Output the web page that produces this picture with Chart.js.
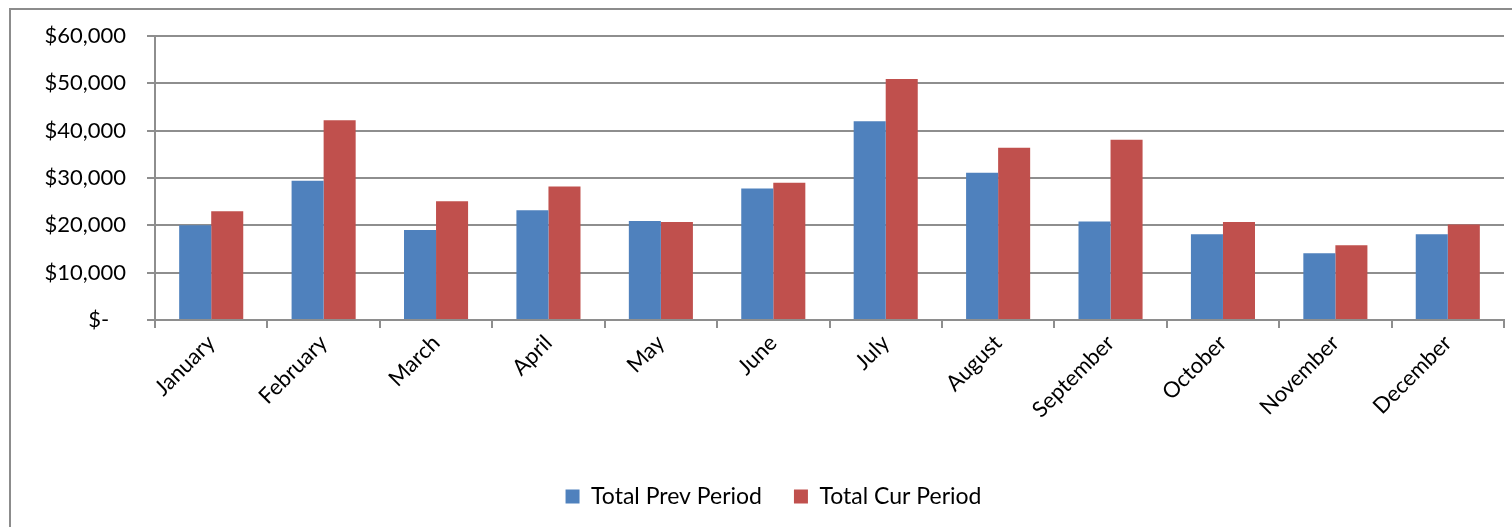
<!DOCTYPE html>
<html>
<head>
<meta charset="utf-8">
<script src="https://cdn.jsdelivr.net/npm/chart.js@4/dist/chart.umd.min.js"></script>
<style>
  html, body { margin: 0; padding: 0; background: #fff; overflow: hidden; }
  #frame { position: absolute; left: 9px; top: 8px; width: 1530px; height: 560px; border: 2px solid #8c8c8c; }
  #wrap { position: absolute; left: 0; top: 0; width: 1512px; height: 527px; }
</style>
</head>
<body>
<div id="frame"></div>
<div id="wrap"><canvas id="barChart" width="1512" height="527"></canvas></div>
<script>
var months = ['January', 'February', 'March', 'April', 'May', 'June', 'July', 'August', 'September', 'October', 'November', 'December'];
var prevPeriod = [20000, 29400, 19000, 23200, 20900, 27800, 42000, 31100, 20800, 18100, 14100, 18100];
var curPeriod = [23000, 42200, 25100, 28200, 20700, 29000, 50900, 36400, 38100, 20700, 15800, 20200];
var yTicks = [0, 10000, 20000, 30000, 40000, 50000, 60000];

var gridColor = '#8e8e8e';
var fontFamily = 'Lato, "Open Sans", sans-serif';

var ctx = document.getElementById('barChart').getContext('2d');
new Chart(ctx, {
    type: 'bar',
    data: {
        labels: months,
        datasets: [
            {
                label: 'Total Prev Period',
                backgroundColor: '#4f81bd',
                data: prevPeriod,
                categoryPercentage: 0.57,
                barPercentage: 1.0
            },
            {
                label: 'Total Cur Period',
                backgroundColor: '#c0504d',
                data: curPeriod,
                categoryPercentage: 0.57,
                barPercentage: 1.0
            }
        ]
    },
    options: {
        responsive: false,
        animation: false,
        // left padding nudges the legend centre right; y axis width brings the plot back to x=155
        layout: { padding: { left: 43, right: 8, top: 36, bottom: 9 } },
        plugins: {
            tooltip: { enabled: false },
            legend: {
                position: 'bottom',
                labels: {
                    color: '#000',
                    font: { family: fontFamily, size: 23 },
                    boxWidth: 14,
                    boxHeight: 14,
                    padding: 32
                }
            }
        },
        scales: {
            x: {
                grid: {
                    offset: true,
                    drawOnChartArea: false,
                    color: gridColor,
                    lineWidth: 2,
                    tickLength: 8
                },
                border: { color: gridColor, width: 2 },
                ticks: {
                    color: '#000',
                    font: { family: fontFamily, size: 22 },
                    minRotation: 45,
                    maxRotation: 45,
                    padding: 2
                },
                afterFit: function(scale) { scale.height = 133; }
            },
            y: {
                min: 0,
                max: 60000,
                afterBuildTicks: function(scale) {
                    scale.ticks = yTicks.map(function(v) { return { value: v }; });
                },
                grid: {
                    color: gridColor,
                    lineWidth: 2,
                    tickLength: 8
                },
                border: { color: gridColor, width: 2 },
                ticks: {
                    color: '#000',
                    font: { family: fontFamily, size: 22 },
                    padding: 21,
                    callback: function(v) {
                        return v === 0 ? '$-   ' : '$' + v.toLocaleString('en-US');
                    }
                },
                afterFit: function(scale) { scale.width = 112; }
            }
        }
    }
});
</script>
</body>
</html>
